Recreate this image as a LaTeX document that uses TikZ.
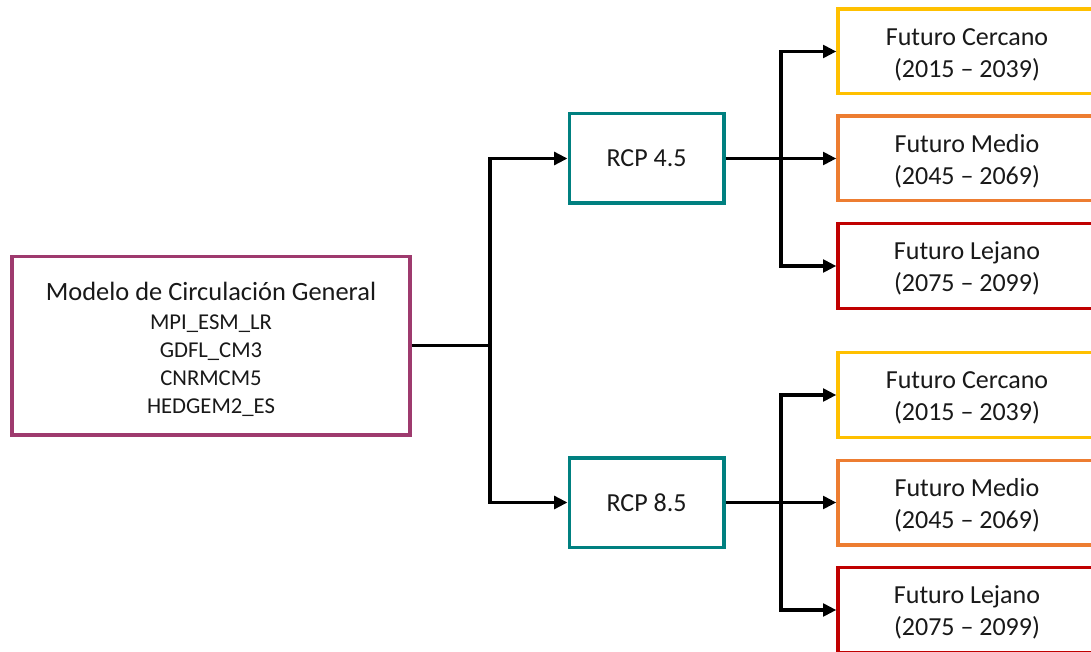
\documentclass[tikz,border=0pt]{standalone}
\usepackage{fontspec}
\setmainfont{Carlito}
\usetikzlibrary{arrows.meta}
\definecolor{gcmcol}{RGB}{158,58,110}
\definecolor{rcpcol}{RGB}{0,128,128}
\definecolor{nearcol}{RGB}{255,192,0}
\definecolor{midcol}{RGB}{237,125,49}
\definecolor{farcol}{RGB}{192,0,0}
\tikzset{
  box/.style={draw, line width=2.5pt, fill=white, align=center, inner sep=0pt, text=black!90},
  gcmbox/.style={box, draw=gcmcol, minimum width=298.5pt, minimum height=134pt, font=\fontsize{17}{21}\selectfont},
  rcpbox/.style={box, draw=rcpcol, minimum width=116pt, minimum height=67pt, font=\fontsize{19.5}{24}\selectfont},
  perbox/.style={box, minimum width=193.5pt, minimum height=63.5pt, font=\fontsize{19.5}{24}\selectfont},
  conn/.style={line width=2.5pt, black, -{Triangle[length=10pt,width=9.5pt]}},
  plain/.style={line width=2.5pt, black}
}
\begin{document}
\begin{tikzpicture}[x=0.75pt,y=-0.75pt]
\useasboundingbox (0,0) rectangle (1091,652);
\node[gcmbox] (gcm) at (211,345.5) {\rule{0pt}{20pt}{\fontsize{19.8}{21}\selectfont Modelo de Circulación General}\\[1pt]
MPI\_ESM\_LR\\GDFL\_CM3\\CNRMCM5\\HEDGEM2\_ES};
\node[rcpbox] (r45) at (646.5,158.5) {RCP 4.5};
\node[rcpbox] (r85) at (646.5,502.5) {RCP 8.5};
\node[perbox, draw=nearcol] (c1) at (967,51.5) {\rule{0pt}{17pt}Futuro Cercano\\(2015 -- 2039)};
\node[perbox, draw=midcol] (m1) at (967,158.5) {\rule{0pt}{17pt}Futuro Medio\\(2045 -- 2069)};
\node[perbox, draw=farcol] (l1) at (967,266) {\rule{0pt}{17pt}Futuro Lejano\\(2075 -- 2099)};
\node[perbox, draw=nearcol] (c2) at (967,395) {\rule{0pt}{17pt}Futuro Cercano\\(2015 -- 2039)};
\node[perbox, draw=midcol] (m2) at (967,502.5) {\rule{0pt}{17pt}Futuro Medio\\(2045 -- 2069)};
\node[perbox, draw=farcol] (l2) at (967,610) {\rule{0pt}{17pt}Futuro Lejano\\(2075 -- 2099)};
\coordinate (j1) at (490,345.5);
\coordinate (j2) at (781,158.5);
\coordinate (j3) at (781,502.5);
\draw[plain] (gcm.east) -- (j1);
\draw[conn] (j1) |- (r45.west);
\draw[conn] (j1) |- (r85.west);
\draw[conn] (r45.east) -- (m1.west);
\draw[conn] (j2) |- (c1.west);
\draw[conn] (j2) |- (l1.west);
\draw[conn] (r85.east) -- (m2.west);
\draw[conn] (j3) |- (c2.west);
\draw[conn] (j3) |- (l2.west);
\end{tikzpicture}
\end{document}
